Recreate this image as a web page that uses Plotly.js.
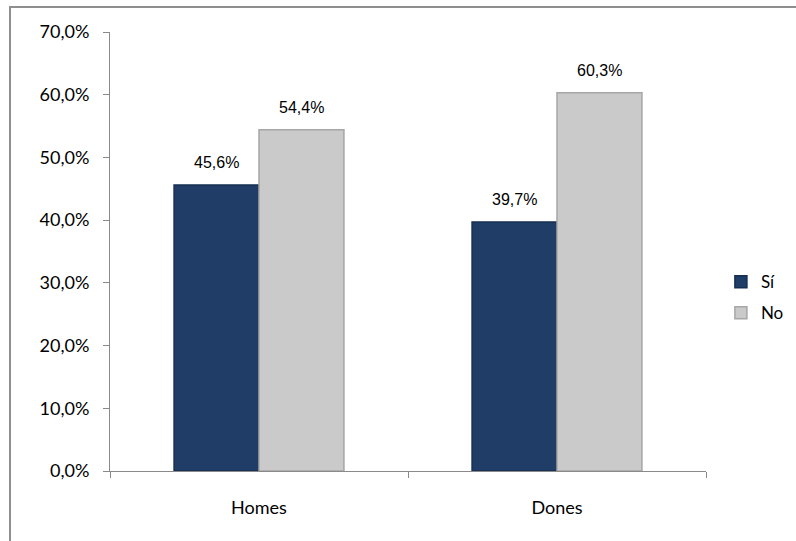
<!DOCTYPE html>
<html>
<head>
<meta charset="utf-8">
<script src="https://cdn.plot.ly/plotly-3.0.1.min.js"></script>
<style>
  html, body { margin: 0; padding: 0; background: #fff; overflow: hidden; }
  #chart { position: absolute; left: 0; top: 0; width: 796px; height: 541px; }
  #frame { position: absolute; left: 9px; top: 6px; width: 900px; height: 700px;
           border: 2px solid #8f8f8f; box-sizing: border-box; pointer-events: none; z-index: 5; }
</style>
</head>
<body>
<div id="chart"></div>
<div id="frame"></div>
<script>
const categories = ["Homes", "Dones"];
const seriesNames = ["Sí", "No"];
const valuesSi = [0.456, 0.397];
const valuesNo = [0.544, 0.603];
const colors = ["#1f3d66", "#cacaca"];
const lineColors = ["#162f50", "#a6a6a6"];

const axisFont = { family: "Lato, Open Sans, sans-serif", size: 18, color: "#000" };
const bargap = 0.43;
const series = [valuesSi, valuesNo];

const traces = series.map((vals, i) => ({
  type: "bar",
  name: seriesNames[i],
  legendgroup: "g" + i,
  x: categories,
  y: vals,
  marker: { color: colors[i], line: { color: lineColors[i], width: 1.5 } },
  hoverinfo: "skip"
}));

// data labels placed above each bar, positioned through the axis scales
const halfBar = (1 - bargap) / series.length;
const fmt = v => (v * 100).toFixed(1).replace(".", ",") + "%";
const annotations = [];
series.forEach((vals, i) => {
  vals.forEach((v, j) => {
    annotations.push({
      x: j + (i - (series.length - 1) / 2) * halfBar,
      y: v,
      xref: "x", yref: "y",
      text: fmt(v),
      showarrow: false,
      yanchor: "bottom",
      yshift: 12,
      font: { family: "Liberation Sans, Arial, sans-serif", size: 16, color: "#000" }
    });
  });
});

const layout = {
  width: 796, height: 541,
  margin: { l: 110, r: 90, t: 32, b: 70, autoexpand: false },
  paper_bgcolor: "#fff", plot_bgcolor: "#fff",
  separators: ",.",
  barmode: "group",
  bargap: bargap,
  bargroupgap: 0,
  showlegend: true,
  font: axisFont,
  annotations: annotations,
  xaxis: {
    type: "category",
    showline: true, linecolor: "#8a8a8a", linewidth: 1,
    ticks: "outside", ticklen: 6, tickcolor: "#8a8a8a",
    tickson: "boundaries",
    ticklabelstandoff: 20,
    showgrid: false, zeroline: false,
    tickfont: axisFont
  },
  yaxis: {
    range: [0, 0.7],
    dtick: 0.1,
    tickformat: ".1%",
    showline: true, linecolor: "#8a8a8a", linewidth: 1,
    ticks: "outside", ticklen: 6, tickcolor: "#8a8a8a",
    ticklabelstandoff: 10,
    showgrid: false, zeroline: false,
    tickfont: axisFont
  },
  legend: {
    x: 1.025, xanchor: "left",
    y: 0.395, yanchor: "middle",
    font: { family: "Lato, Open Sans, sans-serif", size: 17, color: "#000" },
    itemwidth: 30,
    tracegroupgap: 6
  }
};

Plotly.newPlot("chart", traces, layout, { staticPlot: true });
</script>
</body>
</html>
